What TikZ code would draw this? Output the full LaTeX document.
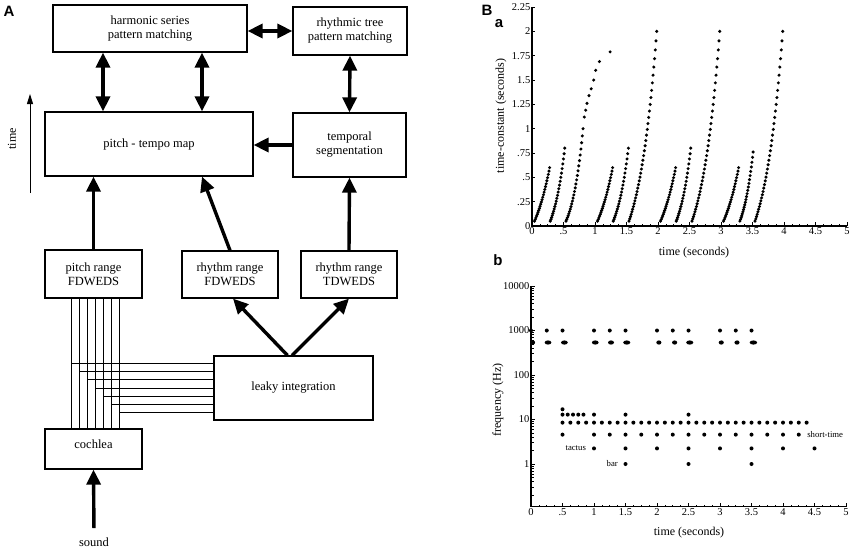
\documentclass[tikz,border=0pt]{standalone}
\usepackage{fontspec}
\setmainfont{Liberation Serif}
\newfontfamily\panelfont{Liberation Sans}
\usetikzlibrary{arrows.meta,calc}

\tikzset{
  block/.style={draw, line width=1.2pt, align=center, inner sep=0pt, font=\fontsize{12.5}{14}\selectfont},
  flow/.style={line width=3.4pt, -{Triangle[width=14pt,length=15pt]}},
  twoway/.style={line width=3.4pt, {Triangle[width=14pt,length=15pt]}-{Triangle[width=14pt,length=15pt]}},
  wire/.style={line width=0.9pt},
  panel/.style={font=\panelfont\bfseries\fontsize{15}{15}\selectfont, inner sep=0pt},
  ticklbl/.style={font=\fontsize{10.5}{12}\selectfont, inner sep=1.5pt},
  axislbl/.style={font=\fontsize{12}{14}\selectfont},
  notelbl/.style={font=\fontsize{8.7}{10}\selectfont, inner sep=0pt},
}

\begin{document}
\begin{tikzpicture}[x=1pt, y=-1pt]
\useasboundingbox (0,0) rectangle (852,549);

% Panel labels
\node[panel] (pA) at (9,11) {A};
\node[panel] (pB) at (487,10) {B};
\node[panel] (pa) at (499,24) {a};
\node[panel] (pb) at (498,260) {b};

% Model blocks
\node[block, minimum width=194pt, minimum height=47pt] (harm) at (150,28.5) {harmonic series\\pattern matching};
\node[block, minimum width=114pt, minimum height=48pt] (rtree) at (350,31) {rhythmic tree\\pattern matching};
\node[block, minimum width=208pt, minimum height=64pt] (ptmap) at (149,144) {pitch - tempo map};
\node[block, minimum width=113pt, minimum height=64pt] (tseg) at (349.5,145) {temporal\\segmentation};
\node[block, minimum width=97pt, minimum height=48pt] (prange) at (93.5,274) {pitch range\\FDWEDS};
\node[block, minimum width=96pt, minimum height=47pt] (rfd) at (230,274.5) {rhythm range\\FDWEDS};
\node[block, minimum width=96pt, minimum height=47pt] (rtd) at (349,274.5) {rhythm range\\TDWEDS};
\node[block, minimum width=159pt, minimum height=64pt] (leaky) at (293.5,388) {leaky integration};
\node[block, minimum width=97pt, minimum height=40pt] (cochlea) at (93.5,449) {\raisebox{10pt}{cochlea}};
\node[font=\fontsize{12.5}{14}\selectfont] (sound) at (94,542) {sound};

% Columns for the arrows into the map
\coordinate (col1) at (103,0);
\coordinate (col2) at (202,0);

% Arrows
\draw[twoway] (harm.east |- rtree.west) -- (rtree.west);
\draw[twoway] (harm.south -| col1) -- (ptmap.north -| col1);
\draw[twoway] (harm.south -| col2) -- (ptmap.north -| col2);
\draw[twoway] (rtree.south) -- (tseg.north);
\draw[flow] (tseg.west) -- (ptmap.east |- tseg.west);
\draw[flow] (prange.north) -- (ptmap.south -| prange.north);
\draw[flow] (rfd.north) -- (ptmap.south -| col2);
\draw[flow] (rtd.north) -- (tseg.south);
\draw[flow] ([xshift=-6pt]leaky.north) -- ([xshift=3pt]rfd.south);
\draw[flow] ([xshift=-1.5pt]leaky.north) -- (rtd.south);
\draw[flow, shorten <=6pt] (sound.north) -- (cochlea.south);

% Channels from the cochlea
\foreach \k in {0,...,6} {
  \pgfmathsetmacro\wx{71+8.05*\k}
  \pgfmathsetmacro\wy{363.3+8.23*\k}
  \coordinate (w\k) at (\wx,\wy);
  \draw[wire] (prange.south -| w\k) -- (cochlea.north -| w\k);
  \draw[wire] (w\k) -- (leaky.west |- w\k);
}

% Time axis
\coordinate (tfoot) at (30,193);
\coordinate (thead) at (30,94);
\draw[line width=1pt, -{Triangle[width=6pt,length=10pt]}] (tfoot) -- (thead);
\node[axislbl, rotate=90] (tlabel) at (12,139) {time};

% Plot a: time-constants
\begin{scope}[shift={(532,226)}, x=63pt, y=97.3pt]
\draw[line width=1.2pt] (0,2.25) -- (0,0) -- (5,0);
\foreach \v/\lbl [count=\c] in {0/0, 0.25/.25, 0.5/.5, 0.75/.75, 1/1, 1.25/1.25, 1.5/1.5, 1.75/1.75, 2/2, 2.25/2.25} {
  \draw[line width=0.8pt] (0,\v) -- ++(3pt,0);
  \node[ticklbl, anchor=east] (ya\c) at (0,\v) {\lbl};
}
\foreach \i in {0,...,40}
  \draw[line width=0.7pt] (\i*0.125,0) -- ++(0,2pt);
\foreach \x/\lbl [count=\c] in {0/0, 0.5/.5, 1/1, 1.5/1.5, 2/2, 2.5/2.5, 3/3, 3.5/3.5, 4/4, 4.5/4.5, 5/5} {
  \draw[line width=0.8pt] (\x,0) -- ++(0,4pt);
  \node[ticklbl, anchor=north] (xa\c) at (\x,0) {\lbl};
}
% rising traces
\foreach \ta/\tb/\ym/\kk/\nn in {0.04/0.28/0.6/0.8/22, 0.29/0.52/0.8/1.2/22, 0.54/0.81/1.0/1.5/24,
    1.04/1.28/0.6/0.8/22, 1.29/1.53/0.8/1.2/22, 1.54/1.98/2.0/1.5/38,
    2.04/2.28/0.6/0.8/22, 2.29/2.52/0.8/1.2/22, 2.54/2.98/2.0/1.5/38,
    3.04/3.28/0.6/0.8/22, 3.30/3.51/0.76/1.2/22, 3.54/3.98/2.0/1.5/38} {
  \foreach \i in {0,...,\nn} {
    \pgfmathsetmacro\tt{\ta+(\tb-\ta)*\i/\nn}
    \pgfmathsetmacro\vv{0.05+(\ym-0.05)*(exp(\kk*\i/\nn)-1)/(exp(\kk)-1)}
    \fill (\tt,\vv) circle[radius=1.7pt];
  }
}
\foreach \t/\v in {0.83/1.12, 0.852/1.19, 0.873/1.26, 0.905/1.34, 0.94/1.41, 0.98/1.50, 1.01/1.60, 1.07/1.69, 1.24/1.79}
  \fill (\t,\v) circle[radius=1.7pt];
\end{scope}
\node[axislbl, rotate=90] (tcaxis) at (501,116) {time-constant (seconds)};
\node[axislbl] (taxisa) at (694,253) {time (seconds)};

% Plot b: frequencies
\begin{scope}[shift={(531,464)}, x=63pt, y=44.5pt]
\draw[line width=1.2pt] (0,4) -- (0,-0.96) -- (5,-0.96);
\foreach \n in {-1,...,3}
  \foreach \m in {2,...,9} {
    \pgfmathsetmacro\ly{\n+ln(\m)/2.302585}
    \draw[line width=0.7pt] (0,\ly) -- ++(2.5pt,0);
  }
\foreach \v/\lbl [count=\c] in {0/1, 1/10, 2/100, 3/1000, 4/10000} {
  \draw[line width=0.8pt] (0,\v) -- ++(4pt,0);
  \node[ticklbl, anchor=east] (yb\c) at (0,\v) {\lbl};
}
\foreach \i in {0,...,40}
  \draw[line width=0.7pt] (\i*0.125,-0.96) -- ++(0,2pt);
\foreach \x/\lbl [count=\c] in {0/0, 0.5/.5, 1/1, 1.5/1.5, 2/2, 2.5/2.5, 3/3, 3.5/3.5, 4/4, 4.5/4.5, 5/5} {
  \draw[line width=0.8pt] (\x,-0.96) -- ++(0,4pt);
  \node[ticklbl, anchor=north] (xb\c) at (\x,-0.96) {\lbl};
}
% detected periodicities
\foreach \t in {0,.25,.5,1,1.25,1.5,2,2.25,2.5,3,3.25,3.5}
  \fill (\t,3) circle[radius=2pt];
\foreach \t/\w in {0.03/2.2pt, .27/3.4pt, .53/3.4pt, 1.02/3.4pt, 1.27/3pt, 1.52/3.6pt, 2.03/2.6pt, 2.28/2.6pt, 2.52/3.6pt, 3.02/2.6pt, 3.27/2.6pt, 3.53/3.8pt}
  \fill (\t,2.73) ellipse[x radius=\w, y radius=2.1pt];
\fill (0.5,1.23) circle[radius=2pt];
\foreach \t in {.5,.583,.667,.75,.833,1,1.5,2.5}
  \fill (\t,1.11) circle[radius=2pt];
\foreach \i in {0,...,31}
  \fill ({0.5+0.125*\i},0.93) circle[radius=2pt];
\foreach \t in {.5,1,1.25,1.5,1.75,2,2.25,2.5,2.75,3,3.25,3.5,3.75,4,4.25}
  \fill (\t,0.66) circle[radius=2pt];
\foreach \t in {1,1.5,2,2.5,3,3.5,4,4.5}
  \fill (\t,0.35) circle[radius=2pt];
\foreach \t in {1.5,2.5,3.5}
  \fill (\t,0) circle[radius=2pt];
\node[notelbl] (tactus) at (0.71,0.35) {tactus};
\node[notelbl] (bar) at (1.29,0) {bar};
\node[notelbl] (short) at (4.67,0.66) {short-time};
\end{scope}
\node[axislbl, rotate=90] (faxis) at (498,400) {frequency (Hz)};
\node[axislbl] (taxisb) at (689,533) {time (seconds)};
\end{tikzpicture}
\end{document}
